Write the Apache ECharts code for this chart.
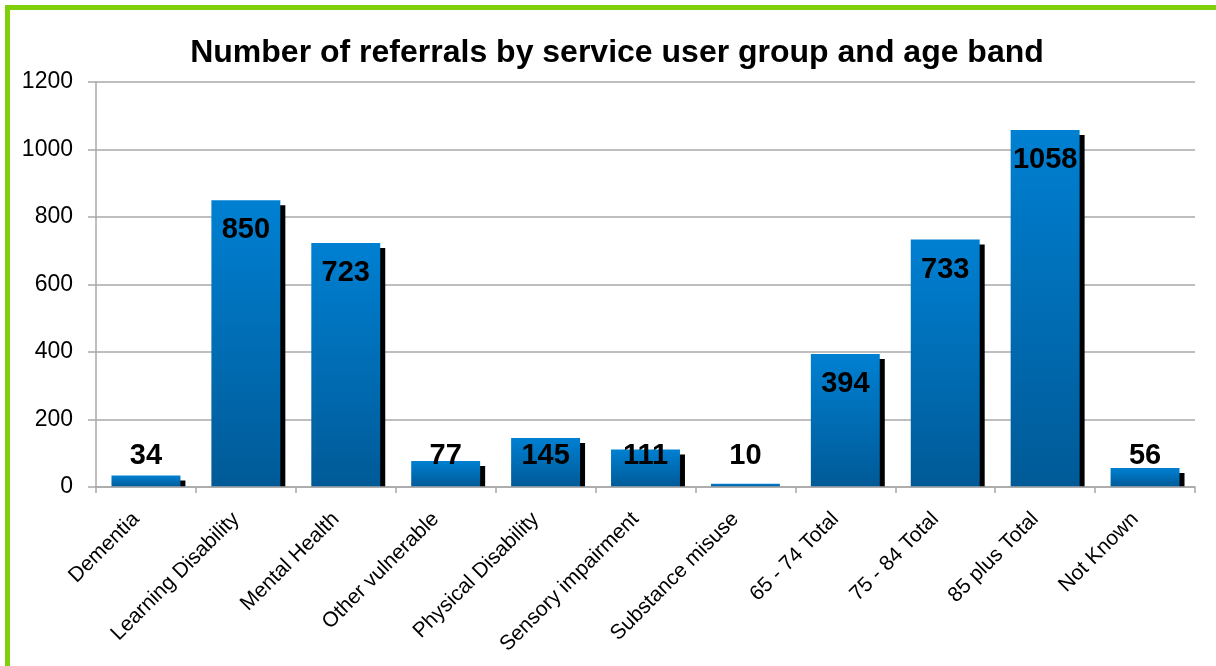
<!DOCTYPE html>
<html>
<head>
<meta charset="utf-8">
<script src="https://cdn.jsdelivr.net/npm/echarts@6/dist/echarts.min.js"></script>
<style>
  html, body { margin: 0; padding: 0; background: #fff; }
  #chart { width: 1216px; height: 666px; }
</style>
</head>
<body>
<div id="chart"></div>
<script>
// Referral counts per service user group and age band
const categories = [
  'Dementia', 'Learning Disability', 'Mental Health', 'Other vulnerable',
  'Physical Disability', 'Sensory impairment', 'Substance misuse',
  '65 - 74 Total', '75 - 84 Total', '85 plus Total', 'Not Known'
];
const referrals = [34, 850, 723, 77, 145, 111, 10, 394, 733, 1058, 56];

// Value axis range
const yMin = 0;
const yMax = 1200;
const yStep = 200;

const FONT = '"Liberation Sans", Arial, Helvetica, sans-serif';
const chart = echarts.init(document.getElementById('chart'));

// Bar with a hard black drop shadow that stops at the baseline,
// plus a bold value label near the top of the bar.
function renderBar(params, api) {
  const idx = api.value(0);
  const val = api.value(1);
  const top = api.coord([idx, val]);
  const base = api.coord([idx, 0]);
  const band = api.size([1, 0])[0];
  const w = band * 0.69;
  const x0 = top[0] - w / 2;
  const h = base[1] - top[1];
  const shadowH = Math.max(h - 5, 0);
  const labelY = Math.min(top[1] + 30, base[1] - 31.5);
  return {
    type: 'group',
    children: [
      {
        type: 'rect',
        shape: { x: x0 + 5, y: top[1] + 5, width: w, height: shadowH },
        style: { fill: '#000' }
      },
      {
        type: 'rect',
        shape: { x: x0, y: top[1], width: w, height: h },
        style: {
          fill: new echarts.graphic.LinearGradient(0, 0, 0, 1, [
            { offset: 0, color: '#0080d2' },
            { offset: 1, color: '#005a97' }
          ])
        }
      },
      {
        type: 'text',
        x: top[0],
        y: labelY,
        style: {
          text: String(val),
          font: 'bold 29px ' + FONT,
          fill: '#000',
          align: 'center',
          verticalAlign: 'middle'
        }
      }
    ]
  };
}

chart.setOption({
  animation: false,
  backgroundColor: '#fff',
  title: {
    text: 'Number of referrals by service user group and age band',
    left: 612,
    textAlign: 'center',
    top: 32,
    textStyle: { fontFamily: FONT, fontWeight: 'bold', fontSize: 32, color: '#000' }
  },
  graphic: [
    { type: 'rect', shape: { x: 5, y: 5, width: 1211, height: 5 }, style: { fill: '#7fcf0a' } },
    { type: 'rect', shape: { x: 5, y: 5, width: 5, height: 661 }, style: { fill: '#7fcf0a' } }
  ],
  grid: { left: 96, right: 21, top: 82, bottom: 179 },
  xAxis: {
    type: 'category',
    data: categories,
    z: 5,
    axisLine: { show: true, lineStyle: { color: '#a8a8a8', width: 1.5 } },
    axisTick: { show: true, length: 6, lineStyle: { color: '#a8a8a8', width: 1.5 } },
    axisLabel: {
      interval: 0,
      rotate: 45,
      margin: 19,
      padding: [0, 14, 0, 0],
      fontFamily: FONT,
      fontSize: 21,
      color: '#000'
    }
  },
  yAxis: {
    type: 'value',
    min: yMin,
    max: yMax,
    interval: yStep,
    axisLine: { show: true, lineStyle: { color: '#a8a8a8', width: 1.5 } },
    axisTick: { show: true, length: 8, lineStyle: { color: '#a8a8a8', width: 1.5 } },
    splitLine: { show: true, lineStyle: { color: '#a8a8a8', width: 1.5 } },
    axisLabel: {
      margin: 23,
      formatter: (v) => String(v),
      fontFamily: FONT,
      fontSize: 23,
      color: '#000'
    }
  },
  series: [
    {
      type: 'custom',
      renderItem: renderBar,
      data: referrals.map((v, i) => [i, v]),
      encode: { x: 0, y: 1 },
      z: 2
    }
  ]
});
</script>
</body>
</html>
